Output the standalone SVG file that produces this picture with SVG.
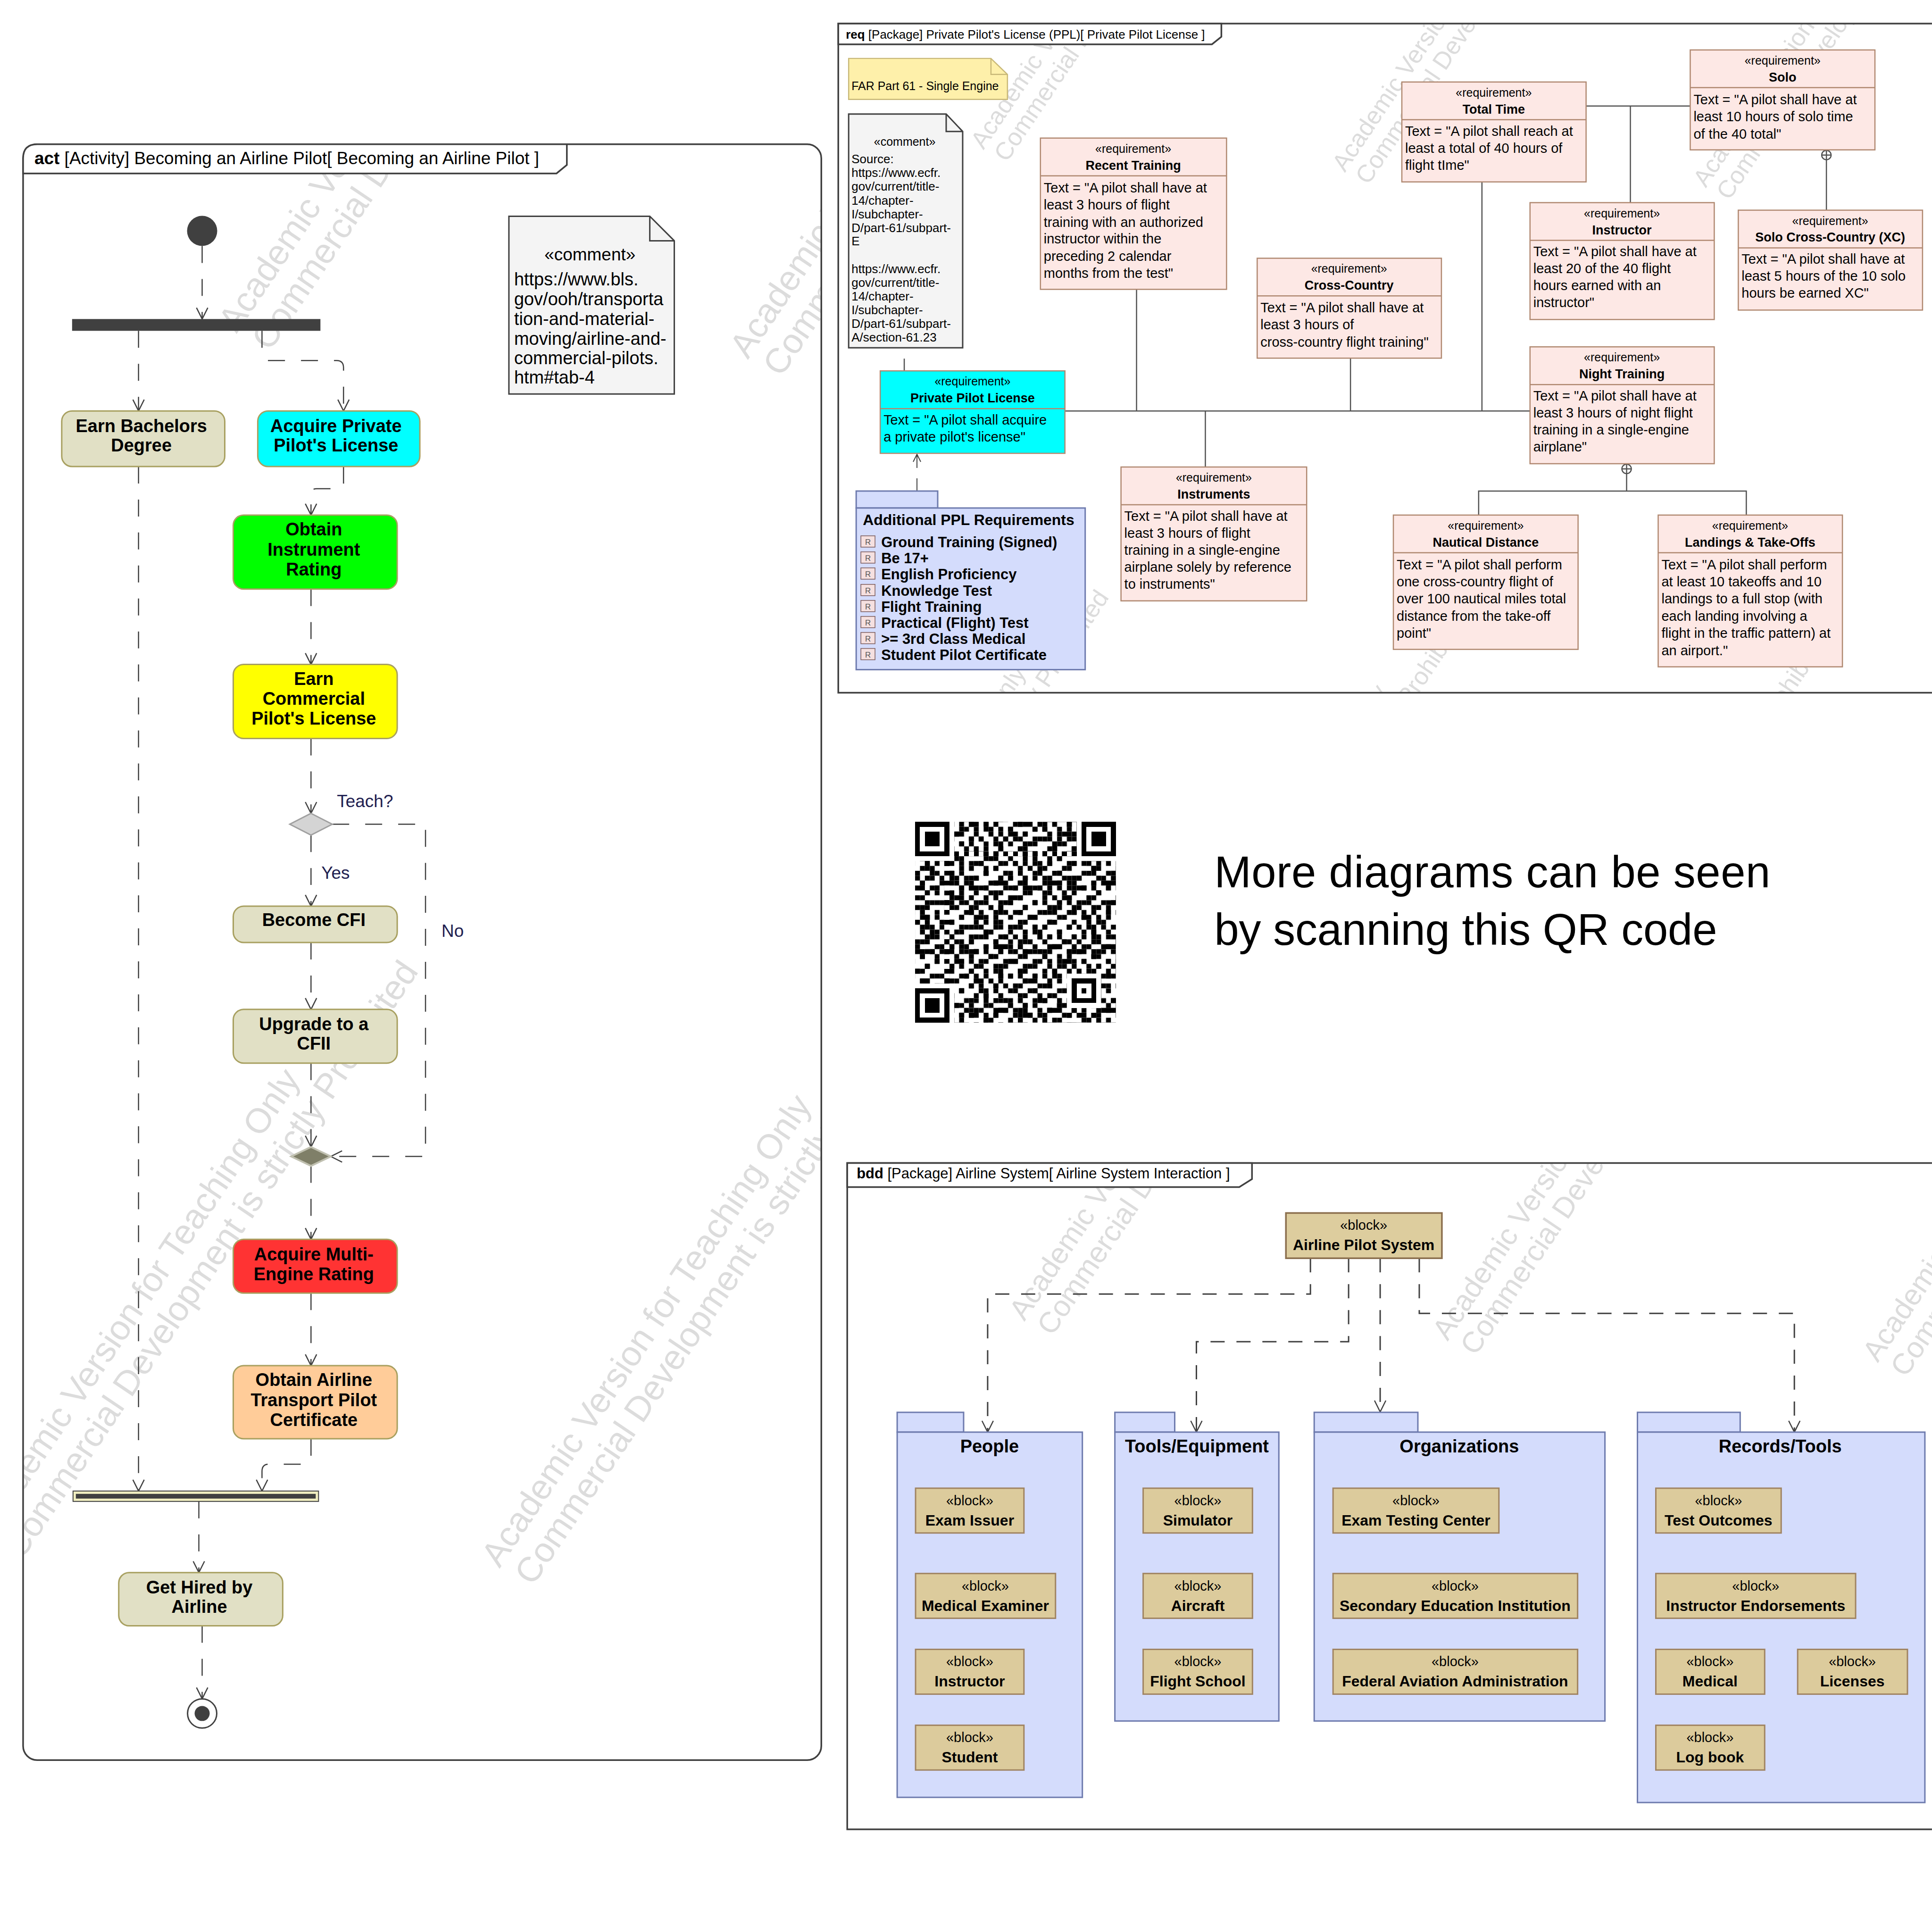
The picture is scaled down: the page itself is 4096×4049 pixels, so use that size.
<svg xmlns="http://www.w3.org/2000/svg" width="4096" height="4049" viewBox="0 0 4096 4049">
<defs>
<style>
text{font-family:"Liberation Sans",Arial,sans-serif;fill:#000}
.fr{fill:none;stroke:#404040;stroke-width:3.5}
.hd{fill:#fff;stroke:#404040;stroke-width:3.5}
.wm{font-size:74px;fill:#DCDCDC}
.e{fill:none;stroke:#404040;stroke-width:2.5;stroke-dasharray:36 34}
.an{stroke:#A8A060;stroke-width:3}
.al{font-size:38px;font-weight:bold;text-anchor:middle}
.lb{font-size:37px;fill:#202050}
.cm{fill:#F4F4F4;stroke:#404040;stroke-width:3}
.rq{fill:#FDE8E5;stroke:#B08870;stroke-width:2.5}
.rd{stroke:#B08870;stroke-width:2.5}
.rs{font-size:25px;text-anchor:middle}
.rn{font-size:27px;font-weight:bold;text-anchor:middle}
.rb{font-size:29px}
.rl{fill:none;stroke:#505050;stroke-width:2.5}
.pk{fill:#D4DCFC;stroke:#6E7BAE;stroke-width:3}
.bk{fill:#DCCB9C;stroke:#A08462;stroke-width:3}
.bs{font-size:29px;text-anchor:middle}
.bn{font-size:32px;font-weight:bold;text-anchor:middle}
.pt{font-size:38px;font-weight:bold;text-anchor:middle}
.be{fill:none;stroke:#404040;stroke-width:3;stroke-dasharray:30 25}
.ri{fill:#F5E0E0;stroke:#7A5A5A;stroke-width:1.5}
.rt{font-size:17px;fill:#555;text-anchor:middle}
.pi{font-size:31px;font-weight:bold}
</style>
<marker id="ah" viewBox="-2 -14 28 28" refX="24" refY="0" markerWidth="28" markerHeight="28" markerUnits="userSpaceOnUse" orient="auto"><path d="M0,-12 L24,0 L0,12" fill="none" stroke="#404040" stroke-width="2.5" stroke-dasharray="none"/></marker>
<marker id="ahs" viewBox="-2 -10 20 20" refX="16" refY="0" markerWidth="20" markerHeight="20" markerUnits="userSpaceOnUse" orient="auto"><path d="M0,-8 L16,0 L0,8" fill="none" stroke="#404040" stroke-width="2" stroke-dasharray="none"/></marker>
<pattern id="q1" patternUnits="userSpaceOnUse" width="7" height="5"><path d="M0 0h1v1h-1zM3 1h1v1h-1zM5 1h1v1h-1zM1 2h1v1h-1zM6 3h1v1h-1zM4 3h1v1h-1zM2 4h1v1h-1z"/></pattern>
<pattern id="q2" patternUnits="userSpaceOnUse" width="11" height="13"><path d="M0 0h2v1h-2zM3 0h1v1h-1zM9 0h1v1h-1zM4 1h1v1h-1zM8 2h2v1h-2zM2 3h1v1h-1zM7 3h1v1h-1zM0 4h1v1h-1zM6 4h1v2h-1zM10 5h1v1h-1zM1 6h2v1h-2zM5 7h1v1h-1zM2 8h1v1h-1zM9 8h1v1h-1zM3 9h1v2h-1zM7 10h1v1h-1zM0 11h1v1h-1zM8 11h1v1h-1zM5 12h3v1h-3zM10 12h1v1h-1z"/></pattern>
<pattern id="q3" patternUnits="userSpaceOnUse" width="5" height="3"><path d="M1 0h1v1h-1zM4 1h1v1h-1zM2 2h1v1h-1z"/></pattern>
<g id="wmA"><text class="wm" x="0" y="0">Academic Version for Teaching Only</text><text class="wm" x="8" y="80">Commercial Development is strictly Prohibited</text></g>
<clipPath id="cA"><rect x="49" y="306" width="1694" height="3429" rx="30"/></clipPath>
<clipPath id="cR"><rect x="1779" y="50" width="2330" height="1420"/></clipPath>
<clipPath id="cB"><rect x="1798" y="2468" width="2310" height="1414"/></clipPath>
</defs>
<rect x="0" y="0" width="4096" height="4049" fill="#fff"/>
<g transform="scale(0.999)">

<!-- ============ ACTIVITY DIAGRAM ============ -->
<g id="activity">
<g clip-path="url(#cA)">
<use href="#wmA" transform="translate(502,709) rotate(-56)"/>
<use href="#wmA" transform="translate(1587,764) rotate(-56)"/>
<use href="#wmA" transform="translate(1060,3329) rotate(-56)"/>
<use href="#wmA" transform="translate(-25,3274) rotate(-56)"/>
</g>
<rect class="fr" x="49" y="306" width="1694" height="3429" rx="30"/>
<path class="hd" d="M49,336 Q49,306 79,306 H1203 V350 L1181,368 H49 Z"/>
<text x="73" y="348" font-size="37"><tspan font-weight="bold">act</tspan> [Activity] Becoming an Airline Pilot[ Becoming an Airline Pilot ]</text>

<g id="act-edges">
<path class="e" marker-end="url(#ah)" d="M429,522 V677"/>
<path class="e" marker-end="url(#ah)" d="M294,702 V872"/>
<path class="e" marker-end="url(#ah)" d="M556,702 V750 Q556,765 571,765 H714 Q729,765 729,780 V872"/>
<path class="e" marker-end="url(#ah)" d="M729,990 V1025 Q729,1037 717,1037 H672 Q660,1037 660,1049 V1093"/>
<path class="e" marker-end="url(#ah)" d="M660,1250 V1410"/>
<path class="e" marker-end="url(#ah)" d="M660,1567 V1726"/>
<path class="e" marker-end="url(#ah)" d="M660,1772 V1923"/>
<path class="e" marker-end="url(#ah)" d="M705,1749 H903 V2454 H702"/>
<path class="e" marker-end="url(#ah)" d="M660,2000 V2142"/>
<path class="e" marker-end="url(#ah)" d="M660,2256 V2434"/>
<path class="e" marker-end="url(#ah)" d="M660,2474 V2630"/>
<path class="e" marker-end="url(#ah)" d="M660,2744 V2898"/>
<path class="e" marker-end="url(#ah)" d="M660,3053 V3092 Q660,3107 645,3107 H571 Q556,3107 556,3122 V3164"/>
<path class="e" marker-end="url(#ah)" d="M294,990 V3164"/>
<path class="e" marker-end="url(#ah)" d="M422,3186 V3337"/>
<path class="e" marker-end="url(#ah)" d="M429,3450 V3605"/>
<text class="lb" x="715" y="1713">Teach?</text>
<text class="lb" x="682" y="1865">Yes</text>
<text class="lb" x="937" y="1988">No</text>
</g>

<g id="a-initial"><circle cx="429" cy="490" r="32" fill="#404040"/></g>
<g id="a-fork"><rect x="153" y="677" width="527" height="25" fill="#404040"/></g>
<g id="a-bachelors"><rect class="an" x="131" y="872" width="346" height="118" rx="22" fill="#E1E0C5"/><text class="al" x="300" y="917">Earn Bachelors</text><text class="al" x="300" y="958">Degree</text></g>
<g id="a-ppl"><rect class="an" x="547" y="872" width="344" height="118" rx="22" fill="#00FFFF"/><text class="al" x="713" y="917">Acquire Private</text><text class="al" x="713" y="958">Pilot's License</text></g>
<g id="a-instrument"><rect class="an" x="495" y="1093" width="348" height="157" rx="22" fill="#00FF00"/><text class="al" x="666" y="1136">Obtain</text><text class="al" x="666" y="1179">Instrument</text><text class="al" x="666" y="1221">Rating</text></g>
<g id="a-commercial"><rect class="an" x="495" y="1410" width="348" height="157" rx="22" fill="#FFFF00"/><text class="al" x="666" y="1453">Earn</text><text class="al" x="666" y="1495">Commercial</text><text class="al" x="666" y="1538">Pilot's License</text></g>
<g id="a-decision"><polygon points="660,1726 705,1749 660,1772 615,1749" fill="#D4D4D4" stroke="#A0A0A0" stroke-width="3"/></g>
<g id="a-cfi"><rect class="an" x="495" y="1923" width="348" height="77" rx="22" fill="#E1E0C5"/><text class="al" x="666" y="1965">Become CFI</text></g>
<g id="a-cfii"><rect class="an" x="495" y="2142" width="348" height="114" rx="22" fill="#E1E0C5"/><text class="al" x="666" y="2186">Upgrade to a</text><text class="al" x="666" y="2227">CFII</text></g>
<g id="a-merge"><polygon points="660,2434 702,2454 660,2474 618,2454" fill="#7F7F68" stroke="#C0C0B0" stroke-width="4"/></g>
<g id="a-multi"><rect class="an" x="495" y="2630" width="348" height="114" rx="22" fill="#FF3333"/><text class="al" x="666" y="2675">Acquire Multi-</text><text class="al" x="666" y="2717">Engine Rating</text></g>
<g id="a-atp"><rect class="an" x="495" y="2898" width="348" height="155" rx="22" fill="#FFCC99"/><text class="al" x="666" y="2941">Obtain Airline</text><text class="al" x="666" y="2984">Transport Pilot</text><text class="al" x="666" y="3026">Certificate</text></g>
<g id="a-join"><rect x="155" y="3164" width="521" height="22" fill="#F0EEC0" stroke="#404040" stroke-width="2"/><rect x="161" y="3170" width="509" height="10" fill="#404040"/></g>
<g id="a-hired"><rect class="an" x="252" y="3337" width="348" height="113" rx="22" fill="#E1E0C5"/><text class="al" x="423" y="3381">Get Hired by</text><text class="al" x="423" y="3422">Airline</text></g>
<g id="a-final"><circle cx="429" cy="3636" r="31" fill="#fff" stroke="#404040" stroke-width="3"/><circle cx="429" cy="3636" r="16" fill="#404040"/></g>
<g id="a-comment"><path class="cm" d="M1080,459 H1379 L1431,511 V836 H1080 Z"/><path d="M1379,459 V511 H1431" fill="none" stroke="#404040" stroke-width="3"/>
<text x="1252" y="553" font-size="37" text-anchor="middle">«comment»</text>
<text font-size="38"><tspan x="1091" y="606">https://www.bls.</tspan><tspan x="1091" y="648">gov/ooh/transporta</tspan><tspan x="1091" y="690">tion-and-material-</tspan><tspan x="1091" y="732">moving/airline-and-</tspan><tspan x="1091" y="773">commercial-pilots.</tspan><tspan x="1091" y="814">htm#tab-4</tspan></text></g>
</g>

<!-- ============ REQUIREMENTS DIAGRAM ============ -->
<g id="req">
<g clip-path="url(#cR)">
<use href="#wmA" transform="translate(2087,319) rotate(-56) scale(0.703)"/>
<use href="#wmA" transform="translate(2854,367) rotate(-56) scale(0.703)"/>
<use href="#wmA" transform="translate(3620,400) rotate(-56) scale(0.703)"/>
<use href="#wmA" transform="translate(2479,2160) rotate(-56) scale(0.703)"/>
<use href="#wmA" transform="translate(1712,2120) rotate(-56) scale(0.703)"/>
<use href="#wmA" transform="translate(3246,2200) rotate(-56) scale(0.703)"/>
</g>
<path class="fr" d="M4100,50 H1779 V1470 H4100"/>
<path class="hd" d="M1779,50 H2592 V78 L2572,94 H1779 Z"/>
<text x="1795" y="82" font-size="26"><tspan font-weight="bold">req</tspan> [Package] Private Pilot's License (PPL)[ Private Pilot License ]</text>

<g id="req-links">
<path class="rl" d="M2260,872 H3247"/>
<path class="rl" d="M2412,614 V872"/>
<path class="rl" d="M2866,760 V872"/>
<path class="rl" d="M2558,872 V991"/>
<path class="rl" d="M3145,386 V872"/>
<path class="rl" d="M3366,225 H3587"/>
<path class="rl" d="M3460,225 V430"/>
<path class="rl" d="M3876,339 V446"/>
<circle class="rl" cx="3876" cy="329" r="10" fill="#fff"/><path class="rl" d="M3866,329 H3886 M3876,319 V339"/>
<path class="rl" d="M3452,1005 V1042 M3138,1093 V1042 H3706 V1093"/>
<circle class="rl" cx="3452" cy="995" r="10" fill="#fff"/><path class="rl" d="M3442,995 H3462 M3452,985 V1005"/>
<path class="rl" d="M1919,761 V787"/>
<path d="M1946,1042 V964" fill="none" stroke="#404040" stroke-width="2" stroke-dasharray="27 22" marker-end="url(#ahs)"/>
</g>

<g id="r-far"><path d="M1801,124 H2103 L2138,158 V211 H1801 Z" fill="#FEF0AA" stroke="#C8B878" stroke-width="2.5"/><path d="M2103,124 V158 H2138" fill="none" stroke="#C8B878" stroke-width="2.5"/><text x="1807" y="191" font-size="25">FAR Part 61 - Single Engine</text></g>

<g id="r-comment"><path class="cm" d="M1801,242 H2008 L2043,279 V738 H1801 Z"/><path d="M2008,242 V279 H2043" fill="none" stroke="#404040" stroke-width="3"/>
<text x="1920" y="309" font-size="25" text-anchor="middle">«comment»</text>
<text font-size="26"><tspan x="1807" y="346">Source:</tspan><tspan x="1807" y="375">https://www.ecfr.</tspan><tspan x="1807" y="404">gov/current/title-</tspan><tspan x="1807" y="434">14/chapter-</tspan><tspan x="1807" y="463">I/subchapter-</tspan><tspan x="1807" y="492">D/part-61/subpart-</tspan><tspan x="1807" y="521">E</tspan><tspan x="1807" y="580">https://www.ecfr.</tspan><tspan x="1807" y="609">gov/current/title-</tspan><tspan x="1807" y="638">14/chapter-</tspan><tspan x="1807" y="667">I/subchapter-</tspan><tspan x="1807" y="696">D/part-61/subpart-</tspan><tspan x="1807" y="725">A/section-61.23</tspan></text></g>

<g id="r-recent"><rect class="rq" x="2208" y="293" width="395" height="321"/><line class="rd" x1="2208" y1="373" x2="2603" y2="373"/><text class="rs" x="2405" y="324">«requirement»</text><text class="rn" x="2405" y="360">Recent Training</text>
<text class="rb"><tspan x="2215" y="408">Text = "A pilot shall have at</tspan><tspan x="2215" y="444">least 3 hours of flight</tspan><tspan x="2215" y="481">training with an authorized</tspan><tspan x="2215" y="517">instructor within the</tspan><tspan x="2215" y="554">preceding 2 calendar</tspan><tspan x="2215" y="590">months from the test"</tspan></text></g>

<g id="r-cross"><rect class="rq" x="2668" y="548" width="391" height="212"/><line class="rd" x1="2668" y1="628" x2="3059" y2="628"/><text class="rs" x="2863" y="579">«requirement»</text><text class="rn" x="2863" y="615">Cross-Country</text>
<text class="rb"><tspan x="2675" y="663">Text = "A pilot shall have at</tspan><tspan x="2675" y="699">least 3 hours of</tspan><tspan x="2675" y="736">cross-country flight training"</tspan></text></g>

<g id="r-total"><rect class="rq" x="2975" y="174" width="391" height="212"/><line class="rd" x1="2975" y1="254" x2="3366" y2="254"/><text class="rs" x="3170" y="205">«requirement»</text><text class="rn" x="3170" y="241">Total Time</text>
<text class="rb"><tspan x="2982" y="288">Text = "A pilot shall reach at</tspan><tspan x="2982" y="324">least a total of 40 hours of</tspan><tspan x="2982" y="360">flight tIme"</tspan></text></g>

<g id="r-solo"><rect class="rq" x="3587" y="106" width="392" height="212"/><line class="rd" x1="3587" y1="186" x2="3979" y2="186"/><text class="rs" x="3783" y="137">«requirement»</text><text class="rn" x="3783" y="173">Solo</text>
<text class="rb"><tspan x="3594" y="221">Text = "A pilot shall have at</tspan><tspan x="3594" y="257">least 10 hours of solo time</tspan><tspan x="3594" y="294">of the 40 total"</tspan></text></g>

<g id="r-instructor"><rect class="rq" x="3247" y="430" width="391" height="248"/><line class="rd" x1="3247" y1="510" x2="3638" y2="510"/><text class="rs" x="3442" y="461">«requirement»</text><text class="rn" x="3442" y="497">Instructor</text>
<text class="rb"><tspan x="3254" y="544">Text = "A pilot shall have at</tspan><tspan x="3254" y="580">least 20 of the 40 flight</tspan><tspan x="3254" y="616">hours earned with an</tspan><tspan x="3254" y="652">instructor"</tspan></text></g>

<g id="r-soloxc"><rect class="rq" x="3689" y="446" width="391" height="212"/><line class="rd" x1="3689" y1="526" x2="4080" y2="526"/><text class="rs" x="3884" y="477">«requirement»</text><text class="rn" x="3884" y="513">Solo Cross-Country (XC)</text>
<text class="rb"><tspan x="3696" y="560">Text = "A pilot shall have at</tspan><tspan x="3696" y="596">least 5 hours of the 10 solo</tspan><tspan x="3696" y="632">hours be earned XC"</tspan></text></g>

<g id="r-night"><rect class="rq" x="3247" y="736" width="391" height="248"/><line class="rd" x1="3247" y1="816" x2="3638" y2="816"/><text class="rs" x="3442" y="767">«requirement»</text><text class="rn" x="3442" y="803">Night Training</text>
<text class="rb"><tspan x="3254" y="850">Text = "A pilot shall have at</tspan><tspan x="3254" y="886">least 3 hours of night flight</tspan><tspan x="3254" y="922">training in a single-engine</tspan><tspan x="3254" y="958">airplane"</tspan></text></g>

<g id="r-nautical"><rect class="rq" x="2957" y="1093" width="392" height="285"/><line class="rd" x1="2957" y1="1173" x2="3349" y2="1173"/><text class="rs" x="3153" y="1124">«requirement»</text><text class="rn" x="3153" y="1160">Nautical Distance</text>
<text class="rb"><tspan x="2964" y="1208">Text = "A pilot shall perform</tspan><tspan x="2964" y="1244">one cross-country flight of</tspan><tspan x="2964" y="1280">over 100 nautical miles total</tspan><tspan x="2964" y="1317">distance from the take-off</tspan><tspan x="2964" y="1353">point"</tspan></text></g>

<g id="r-landings"><rect class="rq" x="3519" y="1093" width="391" height="322"/><line class="rd" x1="3519" y1="1173" x2="3910" y2="1173"/><text class="rs" x="3714" y="1124">«requirement»</text><text class="rn" x="3714" y="1160">Landings &amp; Take-Offs</text>
<text class="rb"><tspan x="3526" y="1208">Text = "A pilot shall perform</tspan><tspan x="3526" y="1244">at least 10 takeoffs and 10</tspan><tspan x="3526" y="1280">landings to a full stop (with</tspan><tspan x="3526" y="1317">each landing involving a</tspan><tspan x="3526" y="1353">flight in the traffic pattern) at</tspan><tspan x="3526" y="1390">an airport."</tspan></text></g>

<g id="r-instruments"><rect class="rq" x="2379" y="991" width="394" height="284"/><line class="rd" x1="2379" y1="1071" x2="2773" y2="1071"/><text class="rs" x="2576" y="1022">«requirement»</text><text class="rn" x="2576" y="1058">Instruments</text>
<text class="rb"><tspan x="2386" y="1105">Text = "A pilot shall have at</tspan><tspan x="2386" y="1141">least 3 hours of flight</tspan><tspan x="2386" y="1177">training in a single-engine</tspan><tspan x="2386" y="1213">airplane solely by reference</tspan><tspan x="2386" y="1249">to instruments"</tspan></text></g>

<g id="r-ppl"><rect class="rq" x="1868" y="787" width="392" height="175" style="fill:#00FFFF"/><line class="rd" x1="1868" y1="867" x2="2260" y2="867"/><text class="rs" x="2064" y="818">«requirement»</text><text class="rn" x="2064" y="854">Private Pilot License</text>
<text class="rb"><tspan x="1875" y="901">Text = "A pilot shall acquire</tspan><tspan x="1875" y="937">a private pilot's license"</tspan></text></g>

<g id="r-additional"><rect class="pk" x="1817" y="1042" width="173" height="36"/><rect class="pk" x="1817" y="1078" width="486" height="343"/>
<text x="1831" y="1114" font-size="32" font-weight="bold">Additional PPL Requirements</text>
<rect class="ri" x="1827" y="1137" width="30" height="24"/><text class="rt" x="1842" y="1156">R</text><text class="pi" x="1870" y="1161">Ground Training (Signed)</text>
<rect class="ri" x="1827" y="1171" width="30" height="24"/><text class="rt" x="1842" y="1190">R</text><text class="pi" x="1870" y="1195">Be 17+</text>
<rect class="ri" x="1827" y="1205" width="30" height="24"/><text class="rt" x="1842" y="1224">R</text><text class="pi" x="1870" y="1229">English Proficiency</text>
<rect class="ri" x="1827" y="1240" width="30" height="24"/><text class="rt" x="1842" y="1259">R</text><text class="pi" x="1870" y="1264">Knowledge Test</text>
<rect class="ri" x="1827" y="1274" width="30" height="24"/><text class="rt" x="1842" y="1293">R</text><text class="pi" x="1870" y="1298">Flight Training</text>
<rect class="ri" x="1827" y="1308" width="30" height="24"/><text class="rt" x="1842" y="1327">R</text><text class="pi" x="1870" y="1332">Practical (Flight) Test</text>
<rect class="ri" x="1827" y="1342" width="30" height="24"/><text class="rt" x="1842" y="1361">R</text><text class="pi" x="1870" y="1366">&gt;= 3rd Class Medical</text>
<rect class="ri" x="1827" y="1376" width="30" height="24"/><text class="rt" x="1842" y="1395">R</text><text class="pi" x="1870" y="1400">Student Pilot Certificate</text>
</g>
</g>

<!-- ============ QR + caption ============ -->
<g id="qr" shape-rendering="crispEdges" transform="translate(1942,1744) scale(10.39)">
<rect width="41" height="41" fill="url(#q1)"/>
<rect width="41" height="41" fill="url(#q2)"/>
<rect width="41" height="41" fill="url(#q3)"/>
<path fill="#fff" d="M0 0h8v8h-8zM33 0h8v8h-8zM0 33h8v8h-8zM31 31h7v7h-7zM8 6h25v1h-25zM6 8h1v25h-1z"/>
<path fill="#000" d="M8 6h1v1h-1zM10 6h1v1h-1zM12 6h1v1h-1zM14 6h1v1h-1zM16 6h1v1h-1zM18 6h1v1h-1zM20 6h1v1h-1zM22 6h1v1h-1zM24 6h1v1h-1zM26 6h1v1h-1zM28 6h1v1h-1zM30 6h1v1h-1zM32 6h1v1h-1zM6 8h1v1h-1zM6 10h1v1h-1zM6 12h1v1h-1zM6 14h1v1h-1zM6 16h1v1h-1zM6 18h1v1h-1zM6 20h1v1h-1zM6 22h1v1h-1zM6 24h1v1h-1zM6 26h1v1h-1zM6 28h1v1h-1zM6 30h1v1h-1zM6 32h1v1h-1z"/>
<rect x="0" y="0" width="7" height="7"/><rect x="1" y="1" width="5" height="5" fill="#fff"/><rect x="2" y="2" width="3" height="3"/>
<rect x="34" y="0" width="7" height="7"/><rect x="35" y="1" width="5" height="5" fill="#fff"/><rect x="36" y="2" width="3" height="3"/>
<rect x="0" y="34" width="7" height="7"/><rect x="1" y="35" width="5" height="5" fill="#fff"/><rect x="2" y="36" width="3" height="3"/>
<rect x="32" y="32" width="5" height="5"/><rect x="33" y="33" width="3" height="3" fill="#fff"/><rect x="34" y="34" width="1" height="1"/>
</g>
<g id="caption">
<text x="2577" y="1883" font-family="Lato, 'Open Sans', sans-serif" font-size="94" textLength="1180" lengthAdjust="spacing">More diagrams can be seen</text>
<text x="2577" y="2005" font-family="Lato, 'Open Sans', sans-serif" font-size="94" textLength="1067" lengthAdjust="spacing">by scanning this QR code</text>
</g>

<!-- ============ BDD DIAGRAM ============ -->
<g id="bdd">
<g clip-path="url(#cB)">
<use href="#wmA" transform="translate(2174,2805) rotate(-56) scale(0.838)"/>
<use href="#wmA" transform="translate(3072,2847) rotate(-56) scale(0.838)"/>
<use href="#wmA" transform="translate(3985,2893) rotate(-56) scale(0.838)"/>
</g>
<path class="fr" d="M4100,2468 H1798 V3882 H4100"/>
<path class="hd" d="M1798,2468 H2657 V2502 L2630,2519 H1798 Z"/>
<text x="1818" y="2500" font-size="31"><tspan font-weight="bold">bdd</tspan> [Package] Airline System[ Airline System Interaction ]</text>

<g id="bdd-links">
<path class="be" marker-end="url(#ah)" d="M2781,2670 V2746 H2096 V3039"/>
<path class="be" marker-end="url(#ah)" d="M2862,2670 V2847 H2539 V3039"/>
<path class="be" marker-end="url(#ah)" d="M2929,2670 V2996"/>
<path class="be" marker-end="url(#ah)" d="M3012,2670 V2787 H3808 V3039"/>
</g>

<g id="b-system"><rect x="2729" y="2574" width="331" height="96" fill="#DDCD9E" stroke="#8B6F4E" stroke-width="3.5"/><text class="bs" x="2894" y="2610">«block»</text><text class="bn" x="2894" y="2653">Airline Pilot System</text></g>

<g id="b-people"><rect class="pk" x="1904" y="2997" width="141" height="42"/><rect class="pk" x="1904" y="3039" width="393" height="775"/><text class="pt" x="2100" y="3082">People</text>
<rect class="bk" x="1943" y="3158" width="230" height="95"/><text class="bs" x="2058" y="3194">«block»</text><text class="bn" x="2058" y="3237">Exam Issuer</text>
<rect class="bk" x="1943" y="3339" width="297" height="95"/><text class="bs" x="2091" y="3375">«block»</text><text class="bn" x="2091" y="3418">Medical Examiner</text>
<rect class="bk" x="1943" y="3500" width="230" height="95"/><text class="bs" x="2058" y="3536">«block»</text><text class="bn" x="2058" y="3579">Instructor</text>
<rect class="bk" x="1943" y="3661" width="230" height="95"/><text class="bs" x="2058" y="3697">«block»</text><text class="bn" x="2058" y="3740">Student</text>
</g>

<g id="b-tools"><rect class="pk" x="2366" y="2997" width="127" height="42"/><rect class="pk" x="2366" y="3039" width="348" height="613"/><text class="pt" x="2540" y="3082">Tools/Equipment</text>
<rect class="bk" x="2426" y="3158" width="232" height="95"/><text class="bs" x="2542" y="3194">«block»</text><text class="bn" x="2542" y="3237">Simulator</text>
<rect class="bk" x="2426" y="3339" width="232" height="95"/><text class="bs" x="2542" y="3375">«block»</text><text class="bn" x="2542" y="3418">Aircraft</text>
<rect class="bk" x="2426" y="3500" width="232" height="95"/><text class="bs" x="2542" y="3536">«block»</text><text class="bn" x="2542" y="3579">Flight School</text>
</g>

<g id="b-orgs"><rect class="pk" x="2789" y="2997" width="220" height="42"/><rect class="pk" x="2789" y="3039" width="617" height="613"/><text class="pt" x="3097" y="3082">Organizations</text>
<rect class="bk" x="2829" y="3158" width="352" height="95"/><text class="bs" x="3005" y="3194">«block»</text><text class="bn" x="3005" y="3237">Exam Testing Center</text>
<rect class="bk" x="2829" y="3339" width="519" height="95"/><text class="bs" x="3088" y="3375">«block»</text><text class="bn" x="3088" y="3418">Secondary Education Institution</text>
<rect class="bk" x="2829" y="3500" width="519" height="95"/><text class="bs" x="3088" y="3536">«block»</text><text class="bn" x="3088" y="3579">Federal Aviation Administration</text>
</g>

<g id="b-records"><rect class="pk" x="3475" y="2997" width="218" height="42"/><rect class="pk" x="3475" y="3039" width="610" height="786"/><text class="pt" x="3778" y="3082">Records/Tools</text>
<rect class="bk" x="3514" y="3158" width="266" height="95"/><text class="bs" x="3647" y="3194">«block»</text><text class="bn" x="3647" y="3237">Test Outcomes</text>
<rect class="bk" x="3514" y="3339" width="424" height="95"/><text class="bs" x="3726" y="3375">«block»</text><text class="bn" x="3726" y="3418">Instructor Endorsements</text>
<rect class="bk" x="3514" y="3500" width="231" height="95"/><text class="bs" x="3629" y="3536">«block»</text><text class="bn" x="3629" y="3579">Medical</text>
<rect class="bk" x="3815" y="3500" width="233" height="95"/><text class="bs" x="3931" y="3536">«block»</text><text class="bn" x="3931" y="3579">Licenses</text>
<rect class="bk" x="3514" y="3661" width="231" height="95"/><text class="bs" x="3629" y="3697">«block»</text><text class="bn" x="3629" y="3740">Log book</text>
</g>
</g>

</g>
</svg>
